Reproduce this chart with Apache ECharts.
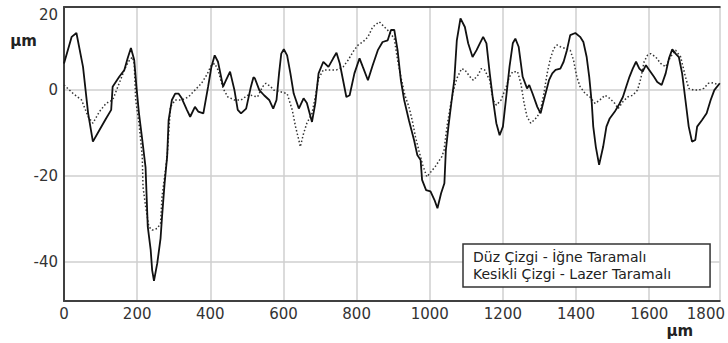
<!DOCTYPE html>
<html>
<head>
<meta charset="utf-8">
<script src="https://cdn.jsdelivr.net/npm/echarts@6/dist/echarts.min.js"></script>
<style>
  html, body { margin: 0; padding: 0; background: #fff; }
  #chart { width: 728px; height: 343px; }
</style>
</head>
<body>
<div id="chart"></div>
<script>
// profile positions (μm) and heights (μm)
const solidX = [0, 21, 34, 52, 66, 79, 97, 115, 129, 133, 151, 165, 174, 183, 192, 198, 205, 214, 223, 229, 237, 241, 246, 255, 264, 268, 275, 282, 286, 295, 304, 313, 322, 336, 345, 358, 367, 381, 394, 403, 412, 421, 435, 443, 454, 466, 475, 484, 498, 511, 518, 522, 534, 547, 561, 572, 581, 588, 594, 601, 610, 619, 628, 642, 655, 664, 678, 687, 696, 709, 723, 736, 745, 754, 763, 772, 781, 794, 808, 817, 831, 844, 858, 871, 885, 894, 903, 912, 921, 930, 943, 957, 966, 975, 979, 990, 1002, 1013, 1021, 1031, 1040, 1044, 1051, 1060, 1067, 1074, 1084, 1096, 1105, 1117, 1128, 1137, 1146, 1155, 1164, 1173, 1182, 1191, 1200, 1209, 1218, 1227, 1234, 1243, 1254, 1266, 1272, 1281, 1294, 1303, 1312, 1326, 1335, 1344, 1357, 1366, 1375, 1384, 1398, 1411, 1420, 1429, 1436, 1443, 1447, 1454, 1463, 1474, 1483, 1492, 1506, 1519, 1528, 1537, 1546, 1555, 1564, 1573, 1582, 1591, 1600, 1613, 1622, 1634, 1645, 1654, 1663, 1672, 1681, 1690, 1699, 1708, 1717, 1726, 1731, 1744, 1757, 1768, 1778, 1793];
const solidY = [6.2, 12.4, 13.3, 5.4, -5.4, -12, -9.3, -6.6, -4.6, 0.8, 3.1, 4.7, 7.4, 9.8, 7, 0.8, -5.4, -11.6, -18, -31.8, -37.2, -41.9, -44.4, -40.3, -34.5, -29.5, -21.7, -15.5, -7, -2.3, -0.8, -0.8, -1.9, -4.6, -6.2, -3.9, -5, -5.4, 0.8, 5.4, 8.1, 6.6, 0.8, 2.3, 4.3, 0, -4.6, -5.4, -4.3, 0.8, 3, 2.7, 0, -1.2, -2.3, -4.3, -2.3, 3.9, 8.5, 9.5, 8.1, 3.9, -0.8, -4.3, -1.9, -3, -7.4, -3.1, 3.9, 6.6, 5.4, 7.4, 8.7, 6.2, 2.3, -1.6, -1.2, 3.9, 7.4, 5.4, 2.3, 5.8, 9.3, 11.2, 11.6, 14, 14, 9.3, 2.3, -2.3, -7, -11.6, -15.1, -16.3, -20.9, -23.3, -23.6, -25.6, -27.5, -24, -21.7, -14, -8.5, -2.3, 2.3, 11.6, 16.7, 14.7, 10.9, 7.7, 9.3, 10.9, 12.4, 10.9, 3.9, -2.3, -7.7, -10.5, -8.5, -1.6, 5.4, 10.9, 12, 10.1, 3.1, 0.4, 1.2, -0.8, -3.9, -5.4, -2.3, 2.3, 3.9, 4.7, 5, 6.6, 9.3, 12.8, 13.3, 12.4, 11.2, 7.7, 3.1, -3.1, -8.5, -13.2, -17.4, -13.2, -8.5, -6.6, -5, -3.1, -1.6, 0.8, 3.1, 5, 6.6, 5, 4.3, 5.8, 4.7, 3.1, 1.9, 1.2, 3.9, 7.4, 9.5, 8.5, 7.7, 3.9, -2.3, -8.5, -12, -11.6, -8.5, -7, -5.4, -2.3, 0, 1.6];

const dottedX = [0, 25, 48, 66, 79, 97, 115, 133, 151, 165, 176, 187, 192, 196, 205, 214, 216, 223, 232, 241, 255, 264, 268, 275, 282, 291, 304, 322, 340, 358, 376, 390, 403, 412, 421, 435, 448, 466, 484, 502, 511, 529, 543, 552, 565, 574, 592, 610, 624, 633, 642, 646, 655, 664, 678, 687, 696, 709, 727, 745, 763, 777, 790, 804, 817, 831, 844, 862, 876, 889, 903, 912, 921, 932, 943, 952, 961, 970, 981, 992, 1015, 1033, 1039, 1047, 1056, 1065, 1074, 1087, 1096, 1110, 1119, 1132, 1141, 1150, 1164, 1173, 1182, 1195, 1209, 1218, 1227, 1240, 1249, 1258, 1266, 1276, 1285, 1294, 1303, 1312, 1321, 1330, 1339, 1348, 1357, 1371, 1384, 1393, 1402, 1411, 1425, 1438, 1452, 1465, 1479, 1492, 1506, 1515, 1528, 1541, 1555, 1568, 1577, 1586, 1595, 1604, 1618, 1631, 1645, 1658, 1672, 1686, 1699, 1708, 1722, 1735, 1749, 1762, 1776, 1789];
const dottedY = [1.2, -0.8, -2.3, -6.2, -7.7, -5, -3.1, -2.3, 1.6, 4.7, 6.6, 7.7, 6.2, -2.3, -7.7, -15.5, -22.5, -27, -31.8, -32.6, -32.2, -31, -24.8, -20.2, -15.5, -3.9, -2.3, -2.3, -1.6, 0, 1.6, 3.5, 5.8, 6.2, 4.7, 0.4, -1.6, -2.3, -2.3, -1.2, -1.2, -1.6, 0.8, 1.6, 0.8, 0, -0.4, -0.8, -4.6, -8.5, -11.6, -13.2, -10.1, -7.7, -5.4, -1.6, 2.7, 4.7, 4.7, 4.7, 5.4, 7, 8.9, 10.5, 11.2, 12.4, 14.7, 15.9, 14.7, 13.6, 12, 7, 3.1, -1.2, -3.9, -7, -10.9, -14, -17.5, -20.2, -17.8, -15.5, -14, -8.5, -3.9, 0, 2.7, 5, 4.7, 3.1, 2.3, 3.5, 5, 4.7, 2.3, -2.3, -3.5, -2.3, 0.8, 3.1, 4.3, 4.3, 1.6, -3.1, -6.2, -7.7, -7, -6.2, -4.6, -0.8, 3.9, 7.4, 9.7, 10.5, 10.1, 9.7, 9.3, 7, 3.1, 0.8, -0.8, -1.6, -3.1, -2.3, -1.2, -1.9, -3.1, -4.3, -2.7, -1.6, -1.2, 0, 2.7, 6.6, 8.1, 8.5, 7.7, 6.2, 5.4, 7.7, 9.3, 7.7, 3.1, 0.4, 0, 0, 0.4, 1.6, 1.7, 1.2];

const seriesNames = ["Düz Çizgi - İğne Taramalı", "Kesikli Çizgi - Lazer Taramalı"];
const xTicks = [0, 200, 400, 600, 800, 1000, 1200, 1400, 1600, 1800];
const yTicks = [-40, -20, 0, 20];

const xMax = 1793;
const yMin = -49.1;
const yMax = 19.35;

const FONT = "DejaVu Sans";

const chart = echarts.init(document.getElementById("chart"), null, { renderer: "svg" });

// the end labels sit a bit inside the plot, as in the picture
const xLabelAt = (v) => Math.min(v, 1755);
const yLabelAt = (v) => Math.min(v, 17.5);

const option = {
  animation: false,
  backgroundColor: "#fff",
  grid: { left: 64, right: 0, top: 7, bottom: 42 },
  legend: {
    orient: "vertical",
    left: 463,
    top: 244,
    data: seriesNames,
    icon: "none",
    itemWidth: 0,
    itemHeight: 0,
    itemGap: 1,
    selectedMode: false,
    padding: [5, 39, 5, 5],
    backgroundColor: "#fff",
    borderColor: "#333",
    borderWidth: 1.5,
    borderRadius: 0,
    textStyle: { fontFamily: FONT, fontSize: 14, color: "#222", lineHeight: 16 },
  },
  xAxis: [
    {
      type: "value",
      min: 0,
      max: xMax,
      interval: 200,
      name: "μm",
      nameLocation: "end",
      nameGap: -40,
      nameTextStyle: {
        fontFamily: FONT, fontSize: 15, fontWeight: "bold", color: "#222",
        align: "center", verticalAlign: "top", padding: [22, 0, 0, 0],
      },
      axisLine: { show: true, onZero: false, lineStyle: { color: "#404040", width: 2 } },
      axisTick: { show: false },
      axisLabel: {
        customValues: xTicks.map(xLabelAt),
        formatter: (v) => String(Math.round(v / 200) * 200),
        fontFamily: FONT, fontSize: 15, color: "#333", margin: 5,
      },
      splitLine: { show: true, lineStyle: { color: "#cfcfcf", width: 1.5 } },
    },
    {
      // plain top border
      type: "value",
      position: "top",
      min: 0,
      max: xMax,
      axisLine: { show: true, onZero: false, lineStyle: { color: "#404040", width: 2 } },
      axisTick: { show: false },
      axisLabel: { show: false },
      splitLine: { show: false },
    },
  ],
  yAxis: {
    type: "value",
    min: yMin,
    max: yMax,
    name: "μm",
    nameLocation: "end",
    nameGap: -34,
    nameTextStyle: {
      fontFamily: FONT, fontSize: 15, fontWeight: "bold", color: "#222",
      align: "right", verticalAlign: "middle", padding: [0, 27, 0, 0],
    },
    axisLine: { show: true, lineStyle: { color: "#404040", width: 2 } },
    axisTick: { show: false, customValues: [-40, -20, 0] },
    axisLabel: {
      customValues: yTicks.map(yLabelAt),
      formatter: (v) => String(Math.round(v / 20) * 20),
      fontFamily: FONT, fontSize: 15, color: "#333", margin: 6,
    },
    splitLine: { show: true, lineStyle: { color: "#cfcfcf", width: 1.5 } },
  },
  series: [
    {
      name: seriesNames[0],
      type: "line",
      data: solidX.map((x, i) => [x, solidY[i]]),
      showSymbol: false,
      color: "#111",
      lineStyle: { color: "#111", width: 1.8 },
      z: 3,
    },
    {
      name: seriesNames[1],
      type: "line",
      data: dottedX.map((x, i) => [x, dottedY[i]]),
      showSymbol: false,
      color: "#333",
      lineStyle: { color: "#333", width: 1.5, type: [1.5, 2.2] },
      z: 2,
    },
  ],
};

chart.setOption(option);
</script>
</body>
</html>
